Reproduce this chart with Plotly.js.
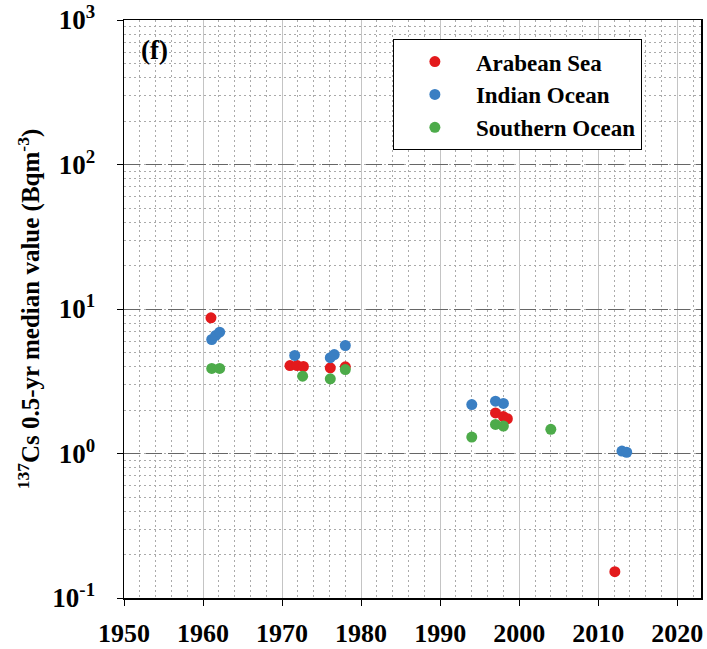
<!DOCTYPE html>
<html>
<head>
<meta charset="utf-8">
<script src="https://cdn.plot.ly/plotly-3.0.1.min.js"></script>
<style>html,body{margin:0;padding:0;background:#fff;}#chart{width:707px;height:649px;}</style>
</head>
<body>
<div id="chart"></div>
<script>
// Arabean Sea
const arabYears  = [1961.0, 1971.0, 1971.9, 1972.7, 1976.1, 1978.0, 1997.0, 1998.0, 1998.5, 2012.1];
const arabValues = [8.69, 4.06, 4.06, 4.0, 3.92, 3.98, 1.91, 1.80, 1.74, 0.152];
// Indian Ocean
const indYears  = [1961.1, 1961.6, 1962.1, 1971.6, 1976.1, 1976.6, 1978.0, 1994.0, 1997.0, 1998.0, 2013.0, 2013.6];
const indValues = [6.15, 6.56, 6.91, 4.77, 4.60, 4.84, 5.59, 2.18, 2.30, 2.22, 1.04, 1.02];
// Southern Ocean
const souYears  = [1961.1, 1962.1, 1972.6, 1976.1, 1978.0, 1994.0, 1997.0, 1998.0, 2004.0];
const souValues = [3.88, 3.88, 3.43, 3.29, 3.81, 1.30, 1.59, 1.55, 1.47];

const seriesNames = ['Arabean Sea', 'Indian Ocean', 'Southern Ocean'];
const yTickVals = [0.1, 1, 10, 100, 1000];
const yTickText = ['10<sup>-1</sup>', '10<sup>0</sup>', '10<sup>1</sup>', '10<sup>2</sup>', '10<sup>3</sup>'];
const xTickVals = [1950, 1960, 1970, 1980, 1990, 2000, 2010, 2020];

const FONT = 'Liberation Serif, Times New Roman, serif';
const colors = ['#e31a1c', '#3a7fc3', '#4dab4a'];

function tr(x, y, i) {
  return {x: x, y: y, type: 'scatter', mode: 'markers', name: seriesNames[i],
    marker: {color: colors[i], size: 11, line: {width: 0}}};
}
const data = [tr(arabYears, arabValues, 0), tr(indYears, indValues, 1), tr(souYears, souValues, 2)];

const layout = {
  width: 707, height: 649,
  margin: {l: 124, r: 6, t: 20, b: 51},
  paper_bgcolor: '#fff', plot_bgcolor: '#fff',
  font: {family: FONT, size: 24, color: '#000', weight: 'bold'},
  showlegend: true,
  legend: {x: 0.466, y: 0.967, xanchor: 'left', yanchor: 'top', bgcolor: '#fff',
    bordercolor: '#000', borderwidth: 1, itemwidth: 72,
    font: {family: FONT, size: 23, color: '#000', weight: 'bold'}},
  xaxis: {
    type: 'linear', range: [1950, 2023], tickmode: 'array', tickvals: xTickVals,
    showline: true, mirror: true, linecolor: '#000', linewidth: 1.5,
    ticks: 'outside', ticklen: 6, tickcolor: '#000', ticklabelstandoff: 5,
    showgrid: true, gridcolor: '#c4c4c4', gridwidth: 1, zeroline: false,
    tickfont: {family: FONT, size: 26, color: '#000', weight: 'bold'},
    minor: {dtick: 2, tick0: 1950, showgrid: true, gridcolor: '#aaaaaa', griddash: '2px,3px', gridwidth: 1, ticks: ''}
  },
  yaxis: {
    type: 'log', range: [-1, 3], tickmode: 'array', tickvals: yTickVals, ticktext: yTickText,
    showline: true, mirror: true, linecolor: '#000', linewidth: 1.5,
    ticks: 'outside', ticklen: 6, tickcolor: '#000', ticklabelstandoff: 16,
    showgrid: true, gridcolor: '#666', griddash: '16px,6px', gridwidth: 1, zeroline: false,
    tickfont: {family: FONT, size: 27, color: '#000', weight: 'bold'},
    title: {text: '<sup>137</sup>Cs 0.5-yr median value (Bqm<sup>-3</sup>)', standoff: 5,
      font: {family: FONT, size: 25, color: '#000', weight: 'bold'}},
    minor: {dtick: 'D1', showgrid: true, gridcolor: '#aaaaaa', griddash: '2px,3px', gridwidth: 1, ticks: ''}
  },
  annotations: [{
    text: '(f)', xref: 'paper', yref: 'paper', x: 0.026, y: 0.948, xanchor: 'left', yanchor: 'middle',
    showarrow: false, font: {family: FONT, size: 27, color: '#000', weight: 'bold'}
  }]
};

Plotly.newPlot('chart', data, layout, {displayModeBar: false, staticPlot: true});
</script>
</body>
</html>
